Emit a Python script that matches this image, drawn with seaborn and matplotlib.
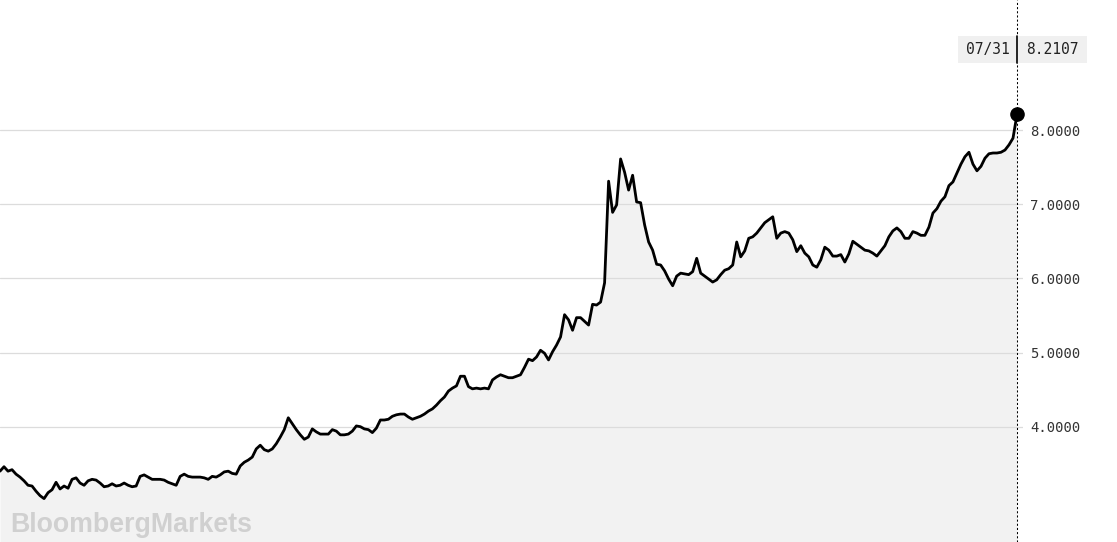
import numpy as np
import pandas as pd
import matplotlib.pyplot as plt
import seaborn as sns
from matplotlib.patches import Rectangle

# Serie (valor por observacion, de izquierda a derecha)
values = [
    3.40, 3.46, 3.40, 3.42, 3.36, 3.32, 3.27, 3.21, 3.20, 3.13,
    3.07, 3.03, 3.11, 3.15, 3.25, 3.16, 3.20, 3.17, 3.29, 3.31,
    3.24, 3.21, 3.27, 3.29, 3.28, 3.24, 3.19, 3.20, 3.23, 3.20,
    3.21, 3.24, 3.21, 3.19, 3.20, 3.33, 3.35, 3.32, 3.29, 3.29,
    3.29, 3.28, 3.25, 3.23, 3.21, 3.33, 3.36, 3.33, 3.32, 3.32,
    3.32, 3.31, 3.29, 3.33, 3.32, 3.35, 3.39, 3.40, 3.37, 3.36,
    3.47, 3.52, 3.55, 3.59, 3.70, 3.75, 3.69, 3.67, 3.70, 3.77,
    3.86, 3.96, 4.12, 4.04, 3.96, 3.89, 3.83, 3.86, 3.97, 3.93,
    3.90, 3.90, 3.90, 3.96, 3.94, 3.89, 3.89, 3.90, 3.94, 4.01,
    4.00, 3.97, 3.96, 3.92, 3.98, 4.09, 4.09, 4.10, 4.14, 4.16,
    4.17, 4.17, 4.13, 4.10, 4.12, 4.14, 4.17, 4.21, 4.24, 4.29,
    4.35, 4.40, 4.48, 4.52, 4.55, 4.68, 4.68, 4.54, 4.51, 4.52,
    4.51, 4.52, 4.51, 4.63, 4.67, 4.70, 4.68, 4.66, 4.66, 4.68,
    4.70, 4.80, 4.91, 4.89, 4.94, 5.03, 4.99, 4.90, 5.01, 5.10,
    5.21, 5.51, 5.44, 5.30, 5.47, 5.47, 5.42, 5.37, 5.65, 5.64,
    5.68, 5.94, 7.31, 6.89, 6.99, 7.61, 7.43, 7.19, 7.39, 7.03,
    7.02, 6.72, 6.49, 6.38, 6.19, 6.18, 6.10, 5.99, 5.90, 6.03,
    6.07, 6.06, 6.05, 6.09, 6.27, 6.07, 6.03, 5.99, 5.95, 5.98,
    6.05, 6.11, 6.13, 6.18, 6.49, 6.29, 6.37, 6.54, 6.56, 6.61,
    6.68, 6.75, 6.79, 6.83, 6.54, 6.61, 6.63, 6.61, 6.52, 6.36,
    6.44, 6.34, 6.29, 6.18, 6.15, 6.25, 6.42, 6.38, 6.30, 6.30,
    6.32, 6.22, 6.33, 6.50, 6.46, 6.42, 6.38, 6.37, 6.34, 6.30,
    6.37, 6.44, 6.56, 6.64, 6.68, 6.63, 6.54, 6.54, 6.63, 6.61,
    6.58, 6.58, 6.69, 6.88, 6.94, 7.04, 7.10, 7.25, 7.30, 7.42,
    7.54, 7.64, 7.70, 7.54, 7.45, 7.51, 7.62, 7.68, 7.69, 7.69,
    7.70, 7.73, 7.80, 7.89, 8.2107,
]
last_date = "07/31"
y_ticks = [4.0, 5.0, 6.0, 7.0, 8.0]

df = pd.DataFrame({"obs": np.arange(len(values)), "value": values})
last = df.iloc[-1]

sns.set_theme(style="white")
plt.rcParams["font.family"] = ["DejaVu Sans Mono", "DejaVu Sans"]

W, H = 1117, 542
fig = plt.figure(figsize=(W / 100, H / 100), dpi=100)
ax = fig.add_axes([0, 0, 1023 / W, 1])

# fondo gris bajo la curva
y_bottom = 2.445
ax.fill_between(df["obs"], df["value"], y_bottom, color="#f2f2f2", lw=0, zorder=1)
sns.lineplot(data=df, x="obs", y="value", color="black", lw=2.0, ax=ax, zorder=3)
ax.plot(last["obs"], last["value"], "o", color="black", ms=9.5, zorder=4, clip_on=False)
ax.axvline(last["obs"], color="black", lw=0.75, dashes=(2, 2), zorder=4)

ax.set_xlim(0, (len(values) - 1) * 1023 / 1017)
ax.set_ylim(y_bottom, 9.753)
ax.set_xticks([])
ax.set_yticks(y_ticks)
ax.set_yticklabels([f"{t:.4f}" for t in y_ticks])
ax.yaxis.tick_right()
ax.tick_params(axis="y", length=0, pad=5, labelsize=10, labelcolor="#333333")
ax.grid(axis="y", color="#dcdcdc", lw=0.9)
ax.set_axisbelow("line")
for s in ax.spines.values():
    s.set_visible(False)
ax.set_xlabel("")
ax.set_ylabel("")

# etiqueta del ultimo valor
fig.patches.append(Rectangle((958 / W, 1 - 62.7 / H), 129 / W, 26.7 / H,
                             transform=fig.transFigure, facecolor="#f0f0f0",
                             edgecolor="none", zorder=5))
fig.lines.append(plt.Line2D([1017 / W, 1017 / W], [1 - 63 / H, 1 - 36 / H],
                            transform=fig.transFigure, color="black", lw=1.2, zorder=6))
fig.text(987.5 / W, 1 - 49.5 / H, last_date, ha="center", va="center",
         fontsize=10.5, color="#222222", zorder=7)
fig.text(1052 / W, 1 - 49.5 / H, f"{last['value']:.4f}", ha="center", va="center",
         fontsize=10.5, color="#222222", zorder=7)

fig.text(10 / W, 1 - 532 / H, "BloombergMarkets", ha="left", va="baseline",
         fontsize=19.3, fontweight="bold", color="#d0d0d0",
         family=["Liberation Sans", "DejaVu Sans"], zorder=7)

fig.savefig("out.png", dpi=100)
